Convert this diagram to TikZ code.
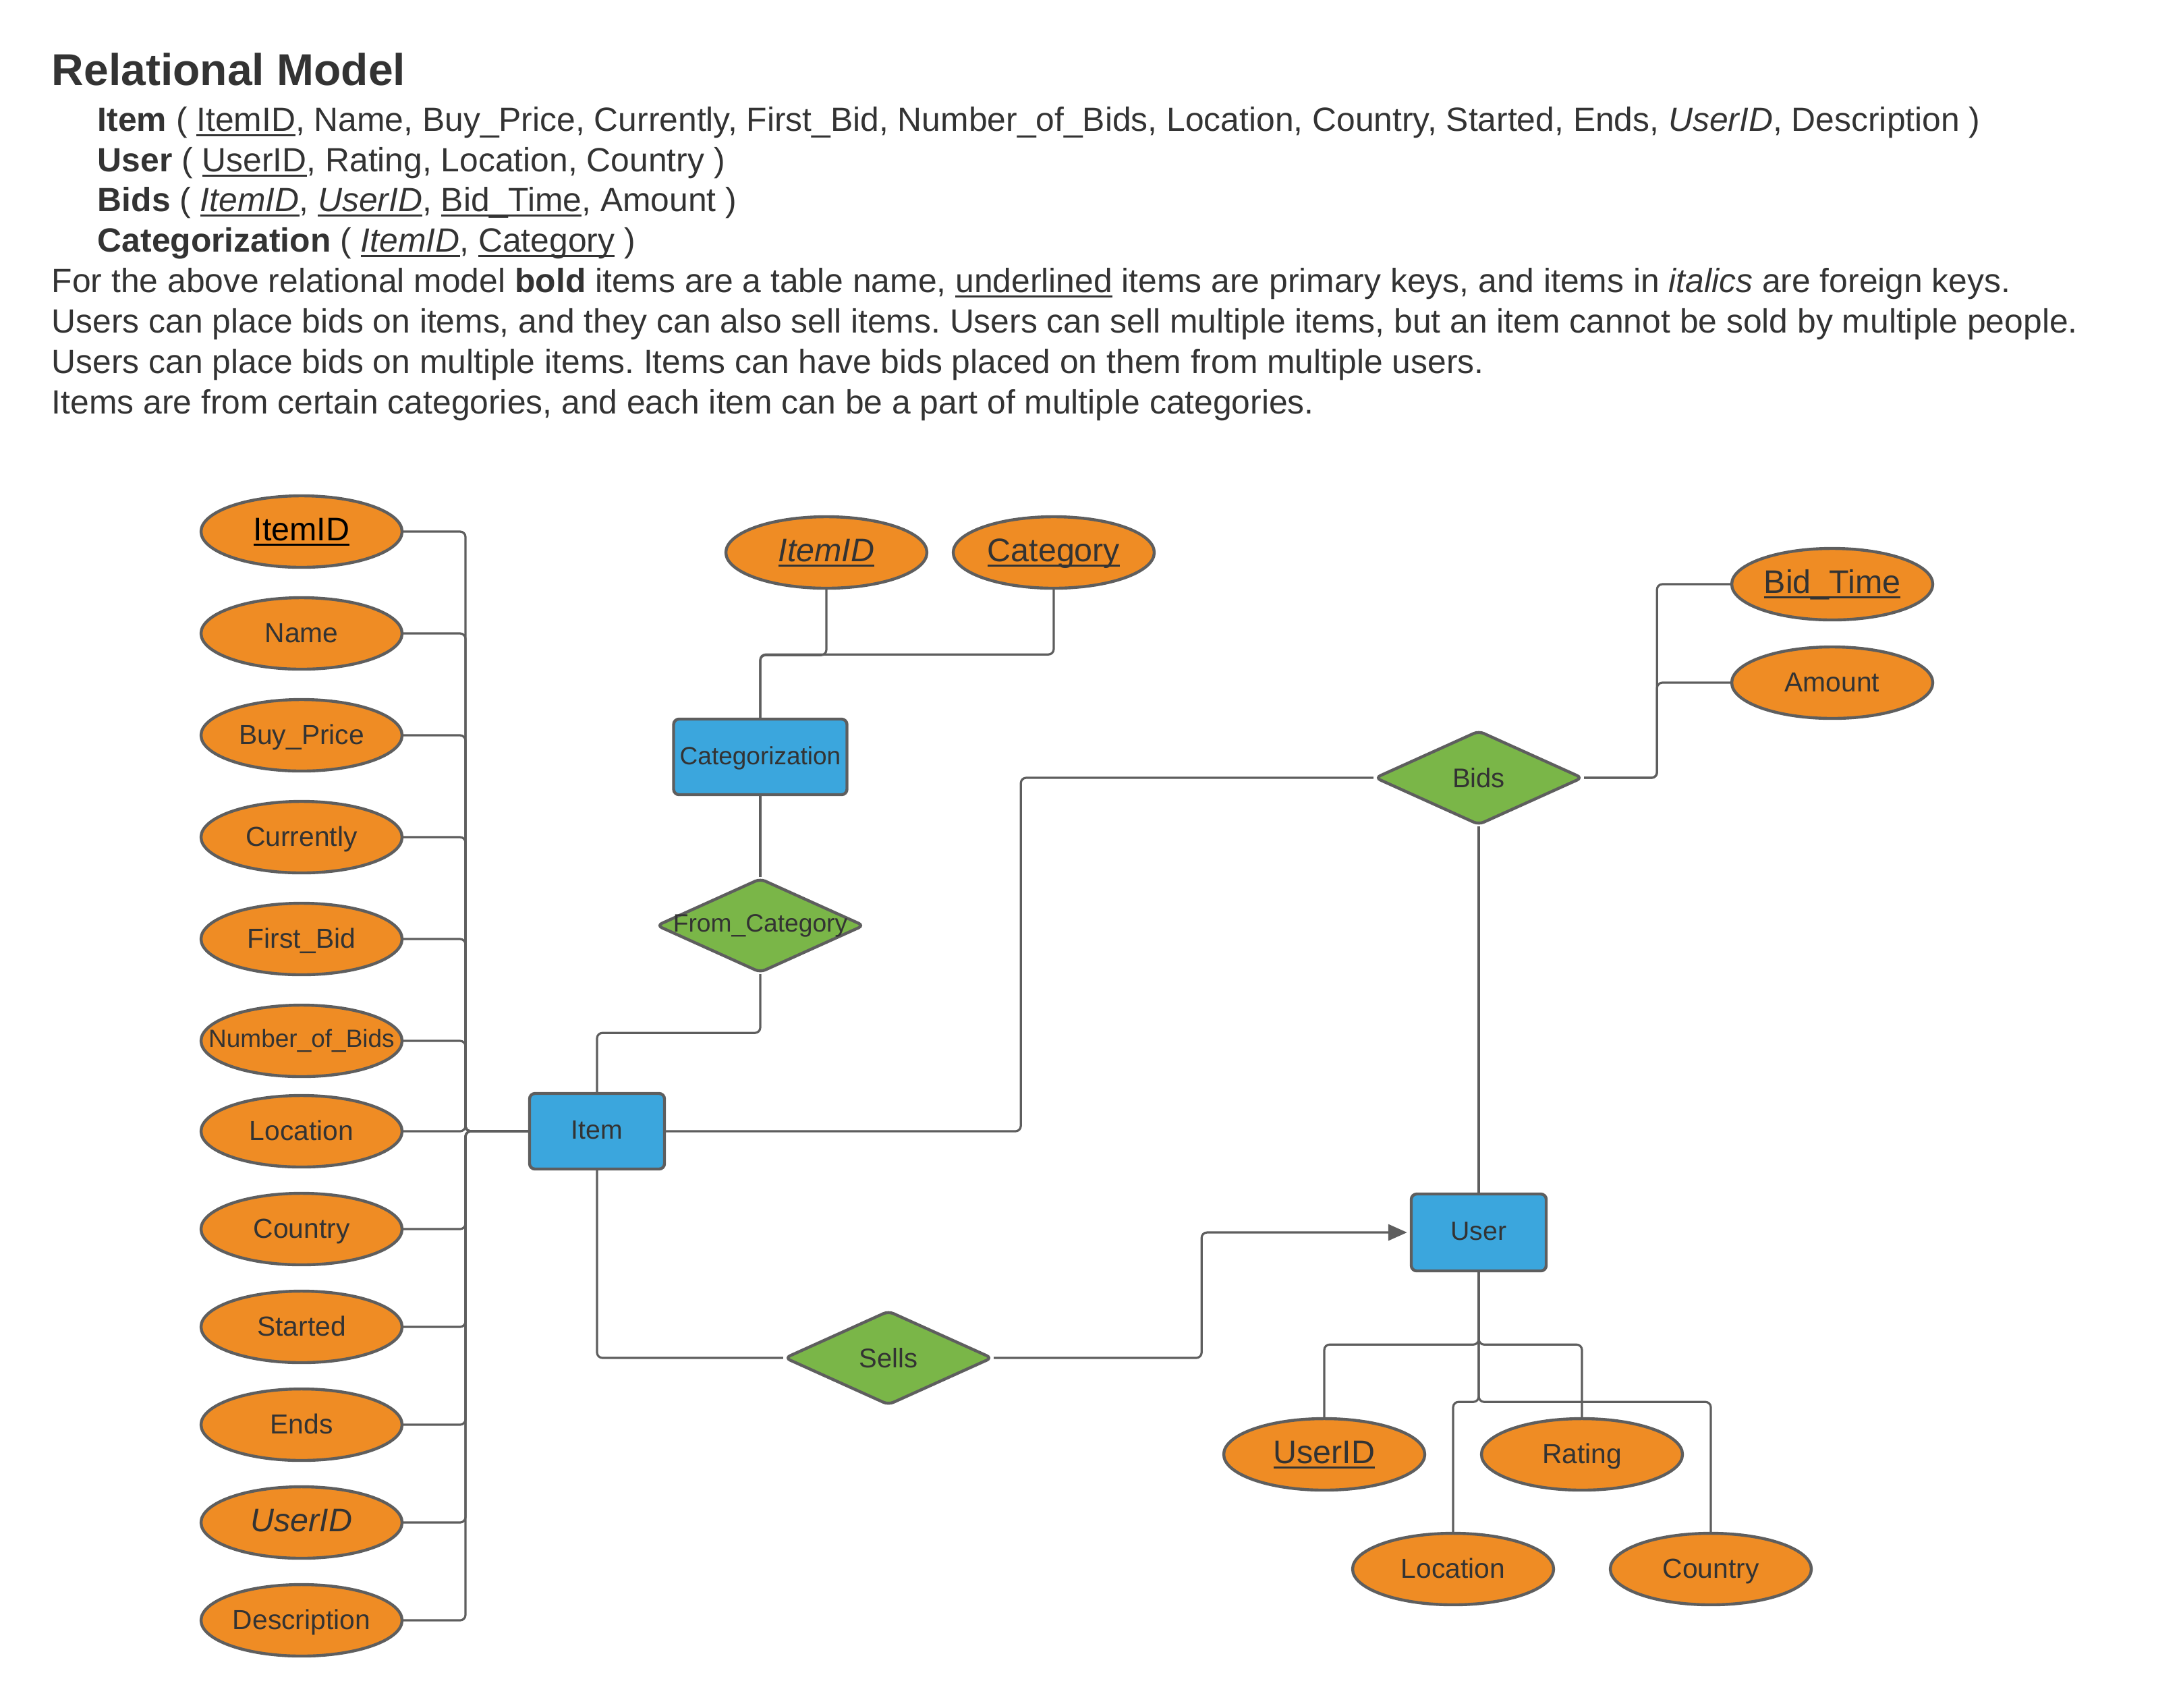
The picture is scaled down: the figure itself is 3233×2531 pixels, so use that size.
\documentclass[tikz,border=0pt]{standalone}
\usepackage{fontspec}
\setmainfont{Liberation Sans}
\usepackage{tikz}
\usetikzlibrary{shapes.geometric, arrows.meta}
\definecolor{attrorange}{HTML}{EF8C24}
\definecolor{entblue}{HTML}{3BA6DD}
\definecolor{relgreen}{HTML}{7AB648}
\definecolor{edgegray}{HTML}{5E5E5E}
\definecolor{inkgray}{HTML}{333333}
\frenchspacing
\newcommand{\keyul}[1]{\setbox0\hbox{#1}\rlap{\rule[-2pt]{\wd0}{0.75pt}}\box0\relax}

\begin{document}
\begin{tikzpicture}[x=0.25pt,y=-0.25pt,node distance=37.75pt]
\tikzstyle{attr}=[ellipse,draw=edgegray,line width=1.1pt,fill=attrorange,text=inkgray,minimum width=74.5pt,minimum height=26.5pt,inner sep=0pt,text height=8.5pt,text depth=2pt,font=\fontsize{10.2}{12}\selectfont]
\tikzstyle{keyattr}=[attr,font=\fontsize{12.1}{14}\selectfont]
\tikzstyle{entity}=[rectangle,rounded corners=2pt,draw=edgegray,line width=1.1pt,fill=entblue,text=inkgray,minimum width=50pt,minimum height=28pt,inner sep=0pt,text height=8pt,text depth=2.5pt,font=\fontsize{9.8}{12}\selectfont]
\tikzstyle{relation}=[diamond,rounded corners=2pt,draw=edgegray,line width=1.1pt,fill=relgreen,text=inkgray,minimum width=77pt,minimum height=35pt,inner sep=0pt,font=\fontsize{10}{12}\selectfont]
\tikzstyle{conn}=[draw=edgegray,line width=0.8pt,rounded corners=2pt]
\tikzstyle{txt}=[anchor=base west,inner sep=0pt,text=inkgray,font=\fontsize{12.45}{15}\selectfont]

\useasboundingbox (0,0) rectangle (3233,2531);

% relational model text
\node[txt,font=\fontsize{16.5}{20}\bfseries] (title) at (76,126.5) {Relational Model};
\node[txt] (tItem) at (144,194) {\textbf{Item} ( \keyul{ItemID}, Name, Buy\_Price, Currently, First\_Bid, Number\_of\_Bids, Location, Country, Started, Ends, \textit{UserID}, Description )};
\node[txt] (tUser) at (144,254) {\textbf{User} ( \keyul{UserID}, Rating, Location, Country )};
\node[txt] (tBids) at (144,313) {\textbf{Bids} ( \keyul{\textit{ItemID}}, \keyul{\textit{UserID}}, \keyul{Bid\_Time}, Amount )};
\node[txt] (tCat) at (144,373) {\textbf{Categorization} ( \keyul{\textit{ItemID}}, \keyul{Category} )};
\node[txt] (note1) at (76,433) {For the above relational model \textbf{bold} items are a table name, \keyul{underlined} items are primary keys, and items in \textit{italics} are foreign keys.};
\node[txt] (note2) at (76,493) {Users can place bids on items, and they can also sell items. Users can sell multiple items, but an item cannot be sold by multiple people.};
\node[txt] (note3) at (76,553) {Users can place bids on multiple items. Items can have bids placed on them from multiple users.};
\node[txt] (note4) at (76,613) {Items are from certain categories, and each item can be a part of multiple categories.};

% entities and relations
\node[entity] (Item) at (885,1677) {Item};
\node[entity,minimum width=64.25pt,font=\fontsize{9.25}{11}\selectfont] (Categorization) at (1127,1122) {Categorization};
\node[relation,label={[font=\fontsize{9.3}{11}\selectfont,text=inkgray]center:From\_Category}] (FromCat) at (1127,1372) {};
\node[relation] (Bids) at (2192,1153) {Bids};
\node[entity,minimum height=28.5pt] (User) at (2192,1827) {User};
\node[relation] (Sells) at (1317,2013) {Sells};

% item attributes
\node[keyattr] (aItemID) at (447,788) {\color{black}\keyul{ItemID}};
\node[attr] (aName) [below of=aItemID] {Name};
\node[attr] (aBuyPrice) [below of=aName] {Buy\_Price};
\node[attr] (aCurrently) [below of=aBuyPrice] {Currently};
\node[attr] (aFirstBid) [below of=aCurrently] {First\_Bid};
\node[attr,label={[font=\fontsize{9.25}{11}\selectfont,text=inkgray]center:Number\_of\_Bids}] (aNumBids) [below of=aFirstBid] {};
\node[attr,node distance=109.5pt] (aLocation) [left of=Item] {Location};
\node[attr,node distance=36.25pt] (aCountry) [below of=aLocation] {Country};
\node[attr,node distance=36.25pt] (aStarted) [below of=aCountry] {Started};
\node[attr,node distance=36.25pt] (aEnds) [below of=aStarted] {Ends};
\node[keyattr,node distance=36.25pt] (aUserIDfk) [below of=aEnds] {\textit{UserID}};
\node[attr,node distance=36.25pt] (aDescription) [below of=aUserIDfk] {Description};

% categorization attributes
\node[keyattr] (aItemIDfk) at (1225,819) {\keyul{\textit{ItemID}}};
\node[keyattr,node distance=84.25pt] (aCategory) [right of=aItemIDfk] {\keyul{Category}};

% bids attributes
\node[keyattr] (aBidTime) at (2716,866) {\keyul{Bid\_Time}};
\node[attr,node distance=36.5pt] (aAmount) [below of=aBidTime] {Amount};

% user attributes
\node[keyattr] (aUserID) at (1963,2156) {\keyul{UserID}};
\node[attr,node distance=95.5pt] (aRating) [right of=aUserID] {Rating};
\node[attr] (aUserLoc) at (2154,2326) {Location};
\node[attr,node distance=95.5pt] (aUserCountry) [right of=aUserLoc] {Country};

% connectors
\coordinate (bus) at (690,1677);
\foreach \a in {aItemID,aName,aBuyPrice,aCurrently,aFirstBid,aNumBids,aLocation,aCountry,aStarted,aEnds,aUserIDfk,aDescription}
  \draw[conn] (\a.east) -| (bus) -- (Item.west);

\draw[conn] (aItemIDfk.south) -- ++(0,97) -| (Categorization.north);
\draw[conn] (aCategory.south) -- ++(0,96) -| (Categorization.north);
\draw[conn] (Categorization.south) -- (FromCat.north);
\draw[conn] (FromCat.south) -- ++(0,87) -| (Item.north);

\draw[conn] (Item.east) -- ++(526,0) |- (Bids.west);
\draw[conn] (Bids.east) -- ++(108,0) |- (aBidTime.west);
\draw[conn] (Bids.east) -- ++(108,0) |- (aAmount.west);
\draw[conn] (Bids.south) -- (User.north);

\draw[conn] (Item.south) |- (Sells.west);
\draw[conn,-{Triangle[length=7pt,width=6pt]},shorten >=1pt] (Sells.east) -- ++(308,0) |- (User.west);

\draw[conn] (User.south) -- ++(0,107) -| (aUserID.north);
\draw[conn] (User.south) -- ++(0,107) -| (aRating.north);
\draw[conn] (User.south) -- ++(0,192) -| (aUserLoc.north);
\draw[conn] (User.south) -- ++(0,192) -| (aUserCountry.north);

\end{tikzpicture}
\end{document}
